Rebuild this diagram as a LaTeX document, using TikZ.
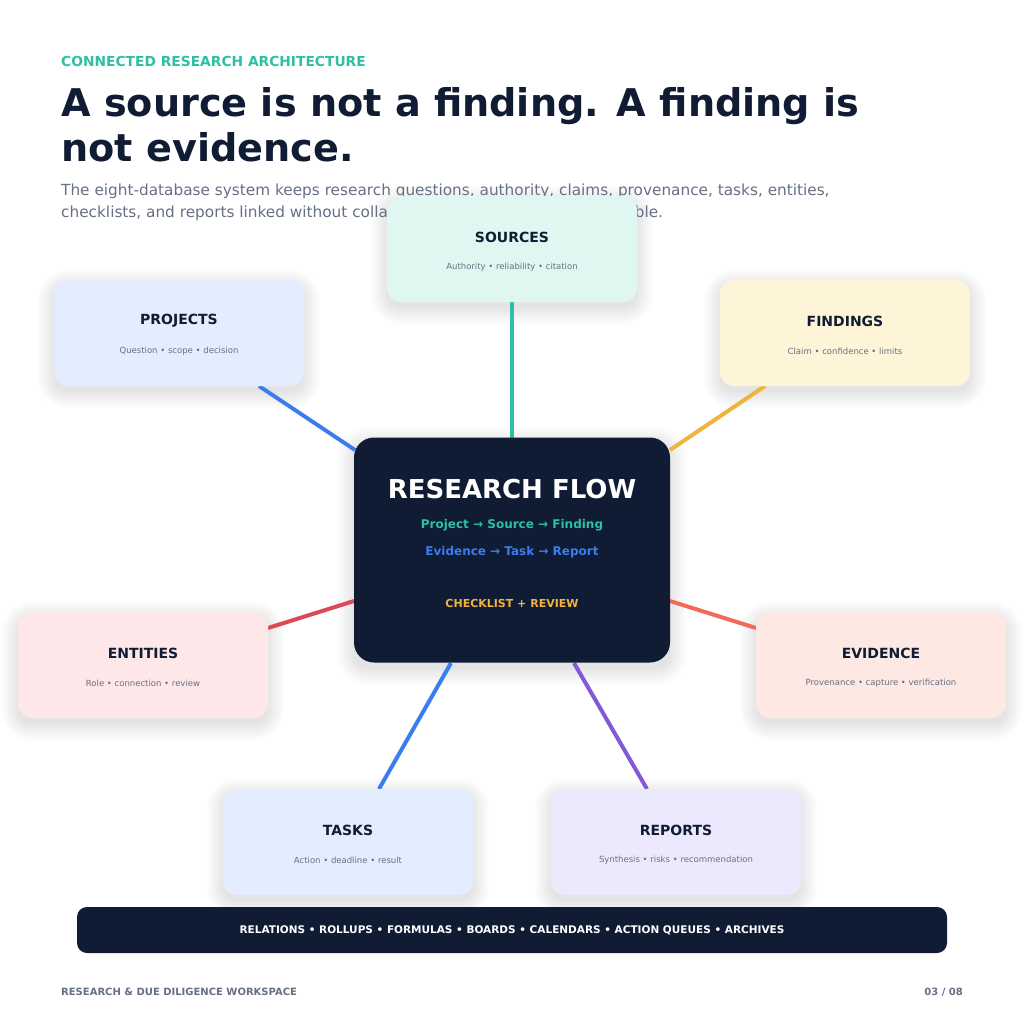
\documentclass[tikz,border=0pt]{standalone}
\usepackage{fontspec}
\setmainfont{DejaVu Sans}
\usetikzlibrary{backgrounds}
\definecolor{navy}{HTML}{0F1C33}
\definecolor{teal}{HTML}{2EBFA5}
\definecolor{slate}{HTML}{667085}
\tikzset{
 card/.style={rounded corners=14pt, minimum width=250pt, minimum height=106pt, inner sep=0pt},
 ttl/.style={font=\bfseries\fontsize{14}{16}\selectfont, text=navy},
 sub/.style={font=\fontsize{8.5}{10}\selectfont, text=slate},
 link/.style={line width=4pt},
}
\newcommand{\softshadow}[1]{%
 \foreach \e in {0,2,...,16}{
  \fill[black, opacity=0.011, rounded corners={14pt+\e pt}]
   ([xshift=-\e pt, yshift=\e pt-6pt]#1.north west) rectangle ([xshift=\e pt, yshift=-\e pt-6pt]#1.south east);
 }}
\begin{document}
\begin{tikzpicture}[x=1pt,y=-1pt]
\useasboundingbox (0,0) rectangle (1024,1024);
\node[anchor=base west, inner sep=0pt, font=\bfseries\fontsize{13.8}{16}\selectfont, text=teal] (kick) at (61,67) {CONNECTED RESEARCH ARCHITECTURE};
\node[anchor=north west, align=left, inner sep=0pt, font=\bfseries\fontsize{38.2}{45}\selectfont, text=navy] (title) at (61,87) {A source is not a finding. A finding is\\not evidence.};
\node[anchor=north west, align=left, inner sep=0pt, font=\fontsize{15.3}{22}\selectfont, text=slate] (lede) at (61,184) {The eight-database system keeps research questions, authority, claims, provenance, tasks, entities,\\checklists, and reports linked without collapsing them all into one single table.};
\coordinate (ps) at (259,386); \coordinate (pe) at (355,450);
\coordinate (fs) at (765,386); \coordinate (fe) at (670,450);
\coordinate (es) at (268,628); \coordinate (ee) at (354,601);
\coordinate (vs) at (756,628); \coordinate (ve) at (670,601);
\coordinate (ts) at (379,789); \coordinate (te) at (451,663);
\coordinate (rs) at (647,789); \coordinate (re) at (574,663);
\coordinate (ss) at (512,302); \coordinate (se) at (512,440);
\draw[link, color=teal] (ss) -- (se);
\draw[link, color={rgb,255:red,59;green,125;blue,240}] (ps) -- (pe);
\draw[link, color={rgb,255:red,240;green,180;blue,60}] (fs) -- (fe);
\draw[link, color={rgb,255:red,220;green,75;blue,85}] (es) -- (ee);
\draw[link, color={rgb,255:red,242;green,106;blue,90}] (vs) -- (ve);
\draw[link, color={rgb,255:red,59;green,125;blue,240}] (ts) -- (te);
\draw[link, color={rgb,255:red,130;green,90;blue,215}] (rs) -- (re);
\node[card, fill={rgb,255:red,224;green,246;blue,240}] (sources) at (512,249) {};
\node[card, fill={rgb,255:red,228;green,237;blue,253}] (projects) at (179,333) {};
\node[card, fill={rgb,255:red,254;green,245;blue,216}] (findings) at (845,333) {};
\node[card, fill={rgb,255:red,253;green,231;blue,233}] (entities) at (143,665) {};
\node[card, fill={rgb,255:red,253;green,232;blue,228}] (evidence) at (881,665) {};
\node[card, fill={rgb,255:red,228;green,237;blue,253}] (tasks) at (348,842) {};
\node[card, fill={rgb,255:red,237;green,233;blue,253}] (reports) at (676,842) {};
\foreach \n/\t/\s in {sources/SOURCES/Authority • reliability • citation, projects/PROJECTS/Question • scope • decision, findings/FINDINGS/Claim • confidence • limits, entities/ENTITIES/Role • connection • review, evidence/EVIDENCE/Provenance • capture • verification, tasks/TASKS/Action • deadline • result, reports/REPORTS/Synthesis • risks • recommendation}{
 \node[ttl] (\n-t) at ([yshift=12pt]\n.center) {\t};
 \node[sub] (\n-s) at ([yshift=-18pt]\n.center) {\s};
}
\node[card, fill=navy, minimum width=316pt, minimum height=225pt, rounded corners=20pt] (hub) at (512,550) {};
\node[font=\bfseries\fontsize{26}{30}\selectfont, text=white] (hubt) at (512,489) {RESEARCH FLOW};
\node[font=\bfseries\fontsize{12}{14}\selectfont, text=teal] (h1) at (512,525) {Project → Source → Finding};
\node[font=\bfseries\fontsize{12}{14}\selectfont, text={rgb,255:red,59;green,125;blue,240}] (h2) at (512,552) {Evidence → Task → Report};
\node[font=\bfseries\fontsize{11}{13}\selectfont, text={rgb,255:red,240;green,180;blue,60}] (h3) at (512,603) {CHECKLIST + REVIEW};
\node[fill=navy, rounded corners=10pt, minimum width=870pt, minimum height=46pt, text=white, font=\bfseries\fontsize{10.5}{13}\selectfont] (bar) at (512,930) {RELATIONS • ROLLUPS • FORMULAS • BOARDS • CALENDARS • ACTION QUEUES • ARCHIVES};
\node[anchor=base west, inner sep=0pt, font=\bfseries\fontsize{10}{12}\selectfont, text=slate] (foot) at (61,995) {RESEARCH \& DUE DILIGENCE WORKSPACE};
\node[anchor=base east, inner sep=0pt, font=\bfseries\fontsize{10}{12}\selectfont, text=slate] (page) at (963,995) {03 / 08};
\begin{scope}[on background layer]
\fill[white] (0,0) rectangle (1024,1024);
\foreach \n in {sources,projects,findings,entities,evidence,tasks,reports,hub}{\softshadow{\n}}
\end{scope}
\end{tikzpicture}
\end{document}
